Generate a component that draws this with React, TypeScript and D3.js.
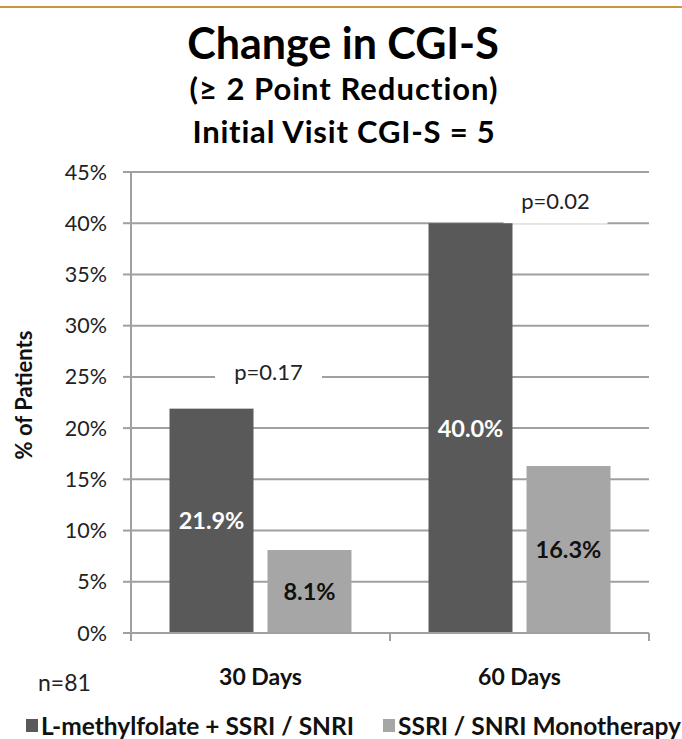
import React from 'react';
import * as d3 from 'd3';

const categories = ['30 Days', '60 Days'];
const seriesNames = ['L-methylfolate + SSRI / SNRI', 'SSRI / SNRI Monotherapy'];
const combinedValues = [21.9, 40.0];
const monoValues = [8.1, 16.3];
const yTicks = [0, 5, 10, 15, 20, 25, 30, 35, 40, 45];
const pLabels = ['p=0.17', 'p=0.02'];
const pLevels = [25.4, 42.1];
const titleLines = ['Change in CGI-S', '(≥ 2 Point Reduction)', 'Initial Visit CGI-S = 5'];

const W = 682;
const H = 739;
const FONT = 'Lato, "Open Sans", sans-serif';
const seriesColors = ['#595959', '#a6a6a6'];
const labelColors = ['#ffffff', '#111111'];
const gridColor = '#a0a0a0';

export default function App() {
  const x = d3.scaleBand<string>().domain(categories).range([131, 649]);
  const inner = d3
    .scaleBand<string>()
    .domain(seriesNames)
    .range([0, x.bandwidth()])
    .paddingInner(0.143)
    .paddingOuter(0.393);
  const y = d3.scaleLinear().domain([0, 45]).range([633, 172]);
  const seriesValues = [combinedValues, monoValues];

  const pOffsets = [8, 36];
  const pBoxW = [107, 104];

  return (
    <svg width={W} height={H} style={{ position: 'absolute', left: 0, top: 0, background: '#fff' }}>
      <rect x={0} y={0} width={W} height={H} fill="#fff" />
      <line x1={0} x2={W} y1={7} y2={7} stroke="#c8963e" strokeWidth={2} />
      {/* titles */}
      <text x={343} y={59} textAnchor="middle" fontFamily={FONT} fontWeight={700} fontSize={43} fill="#000">
        {titleLines[0]}
      </text>
      <text x={344} y={100} textAnchor="middle" fontFamily={FONT} fontWeight={700} fontSize={31} letterSpacing={1} fill="#000">
        {titleLines[1]}
      </text>
      <text x={344} y={143} textAnchor="middle" fontFamily={FONT} fontWeight={700} fontSize={31} letterSpacing={0.8} fill="#000">
        {titleLines[2]}
      </text>

      {/* grid and y ticks */}
      {yTicks.map((t) => (
        <g key={t}>
          {t > 0 && (
            <line x1={x.range()[0]} x2={x.range()[1]} y1={y(t)} y2={y(t)} stroke={gridColor} strokeWidth={2} />
          )}
          <line x1={123} x2={131} y1={y(t)} y2={y(t)} stroke={gridColor} strokeWidth={2} />
          <text x={107} y={y(t)} dy="0.35em" textAnchor="end" fontFamily={FONT} fontSize={21.5} fill="#222">
            {t}%
          </text>
        </g>
      ))}

      {/* p-value annotations */}
      {pLabels.map((p, i) => {
        const cx = (x(categories[i]) as number) + x.bandwidth() / 2 + pOffsets[i];
        const cy = y(pLevels[i]);
        return (
          <g key={p}>
            <rect x={cx - pBoxW[i] / 2} y={cy - 16} width={pBoxW[i]} height={i === 1 ? 38 : 30} fill="#fff" />
            <text x={cx} y={cy} dy="0.35em" textAnchor="middle" fontFamily={FONT} fontSize={22} fill="#222">
              {p}
            </text>
          </g>
        );
      })}

      {/* bars */}
      {seriesNames.map((s, si) =>
        categories.map((c, ci) => {
          const v = seriesValues[si][ci];
          const bx = (x(c) as number) + (inner(s) as number);
          const by = y(v);
          return (
            <g key={s + c}>
              <rect x={bx} y={by} width={inner.bandwidth()} height={y(0) - by} fill={seriesColors[si]} />
              <text
                x={bx + inner.bandwidth() / 2}
                y={(by + y(0)) / 2}
                dy="0.36em"
                textAnchor="middle"
                fontFamily={FONT}
                fontWeight={700}
                fontSize={23.5}
                fill={labelColors[si]}
              >
                {v.toFixed(1)}%
              </text>
            </g>
          );
        })
      )}

      {/* axes */}
      <line x1={131} x2={131} y1={y(45)} y2={y(0)} stroke={gridColor} strokeWidth={2} />
      <line x1={131} x2={649} y1={y(0)} y2={y(0)} stroke={gridColor} strokeWidth={2} />
      {[...categories.map((c) => x(c) as number), x.range()[1]].map((tx, i) => (
        <line key={i} x1={tx} x2={tx} y1={y(0)} y2={y(0) + 8} stroke={gridColor} strokeWidth={2} />
      ))}
      {categories.map((c) => (
        <text
          key={c}
          x={(x(c) as number) + x.bandwidth() / 2}
          y={677}
          dy="0.35em"
          textAnchor="middle"
          fontFamily={FONT}
          fontWeight={700}
          fontSize={23}
          fill="#111"
        >
          {c}
        </text>
      ))}
      <text x={38} y={683} dy="0.35em" fontFamily={FONT} fontSize={23} fill="#222">
        n=81
      </text>

      {/* y label */}
      <text
        transform={`translate(24, 395) rotate(-90)`}
        dy="0.35em"
        textAnchor="middle"
        fontFamily={FONT}
        fontWeight={700}
        fontSize={22}
        fill="#111"
      >
        % of Patients
      </text>

      {/* legend */}
      {seriesNames.map((s, i) => {
        const lx = [26, 383][i];
        return (
          <g key={s}>
            <rect x={lx} y={719} width={12} height={13} fill={seriesColors[i]} />
            <text x={lx + 15} y={726} dy="0.36em" fontFamily={FONT} fontWeight={700} fontSize={24.5} fill="#111">
              {s}
            </text>
          </g>
        );
      })}
    </svg>
  );
}
